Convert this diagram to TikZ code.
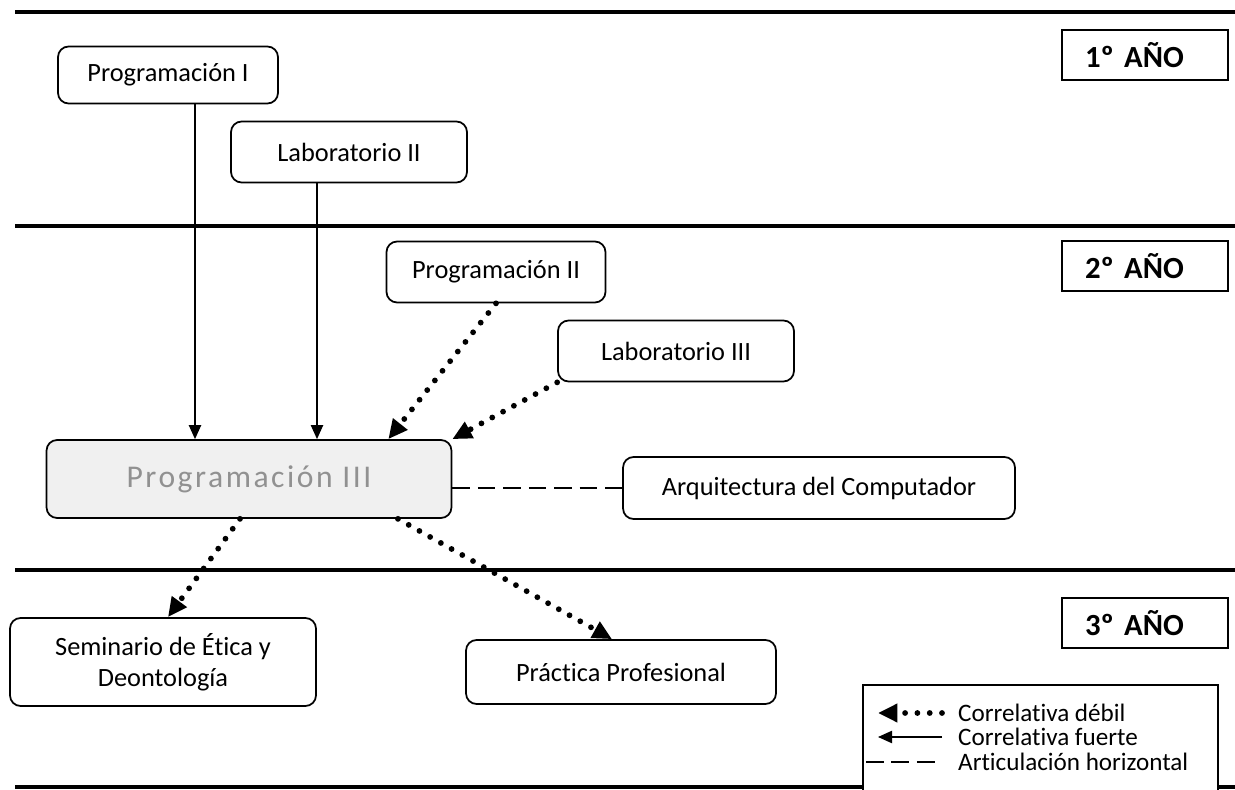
\documentclass[tikz,border=0pt]{standalone}
\usepackage{fontspec}
\setmainfont{Carlito}[Ligatures=NoCommon]
\usepackage{tikz}
\usetikzlibrary{arrows.meta, positioning, calc}
\definecolor{grisfondo}{RGB}{240,240,240}
\definecolor{gristexto}{RGB}{145,145,145}
\tikzset{
  materia/.style={draw, rounded corners=6pt, line width=1pt, fill=white,
                  align=center, font=\fontsize{15}{17.5}\selectfont},
  anio/.style={draw, line width=1.1pt, minimum height=1cm, inner xsep=0.46cm,
               text width=2.4cm, align=left, font=\fontsize{17.5}{20}\selectfont\bfseries},
  regla/.style={line width=2.2pt},
  fuerte/.style={line width=0.8pt, -{Triangle[length=8pt,width=7pt]}},
  debil/.style={line width=3.3pt, line cap=round, dash pattern=on 0pt off 7pt,
                -{Triangle[length=11pt,width=10pt]}},
  horizontal/.style={line width=0.8pt, dash pattern=on 10pt off 4.5pt},
  leyenda/.style={anchor=west, font=\fontsize{14.3}{16}\selectfont}
}

\begin{document}
\begin{tikzpicture}[x=0.02cm,y=-0.02cm]
\useasboundingbox (0,0) rectangle (1235,790);

% ── Year separators and labels ────────────────────────────────────────────────
\foreach \y in {12,226,570,787}
  \draw[regla] (15,\y) -- (1235,\y);
\foreach \n/\y/\txt in {1/55/1º AÑO, 2/266/2º AÑO, 3/623/3º AÑO}
  \node[anio, minimum width=3.32cm] (anio\n) at (1145,\y) {\txt};

% ── Subjects ──────────────────────────────────────────────────────────────────
\node[materia, minimum width=4.4cm, minimum height=1.14cm] (prog1) at (168,75)
     {Programación I};
\node[materia, minimum width=4.72cm, minimum height=1.22cm] (lab2) at (349,152)
     {Laboratorio II};
\node[materia, minimum width=4.38cm, minimum height=1.22cm] (prog2) at (496,272)
     {Programación II};
\node[materia, minimum width=4.72cm, minimum height=1.22cm] (lab3) at (676,351)
     {Laboratorio III};
\node[materia, fill=grisfondo, text=gristexto, minimum width=8.1cm,
      minimum height=1.56cm, font=\fontsize{18}{20}\selectfont\addfontfeature{LetterSpace=8}]
     (prog3) at (249,479) {Programación III};
\node[materia, minimum width=7.84cm, minimum height=1.24cm] (arq) at (819,488)
     {Arquitectura del Computador};
\node[materia, minimum width=6.12cm, minimum height=1.76cm] (sem) at (163,662)
     {Seminario de Ética y\\ Deontología};
\node[materia, minimum width=6.2cm, minimum height=1.28cm] (prac) at (621,672)
     {Práctica Profesional};

% ── Correlatives ──────────────────────────────────────────────────────────────
\draw[fuerte] ([xshift=0.54cm]prog1.south) -- ([xshift=0.54cm]prog1.south |- prog3.north);
\draw[fuerte] ([xshift=-0.64cm]lab2.south) -- ([xshift=-0.64cm]lab2.south |- prog3.north);
\draw[debil] (prog2.south) -- ([xshift=-1.28cm]prog3.north east);
\draw[debil] (lab3.south west) -- (prog3.north east);
\draw[horizontal] (arq.west -| prog3.east) -- (arq.west);
\draw[debil] ([xshift=-0.18cm]prog3.south) -- ([xshift=0.1cm]sem.north);
\draw[debil] ([xshift=2.98cm]prog3.south) -- ([xshift=-0.18cm]prac.north);

% ── Legend ────────────────────────────────────────────────────────────────────
\draw[line width=1pt, fill=white] (863,795) -- (863,685) -- (1218,685) -- (1218,795);
\coordinate (d1) at (942,713);  \coordinate (d2) at (878,713);
\coordinate (f1) at (942,737);  \coordinate (f2) at (878,737);
\coordinate (h1) at (866,762);  \coordinate (h2) at (942,762);
\draw[debil] (d1) -- (d2);
\draw[fuerte] (f1) -- (f2);
\draw[horizontal] (h1) -- (h2);
\node[leyenda] (ley1) at (952,713) {Correlativa débil};
\node[leyenda] (ley2) at (952,737) {Correlativa fuerte};
\node[leyenda] (ley3) at (952,762) {Articulación horizontal};

\end{tikzpicture}
\end{document}
